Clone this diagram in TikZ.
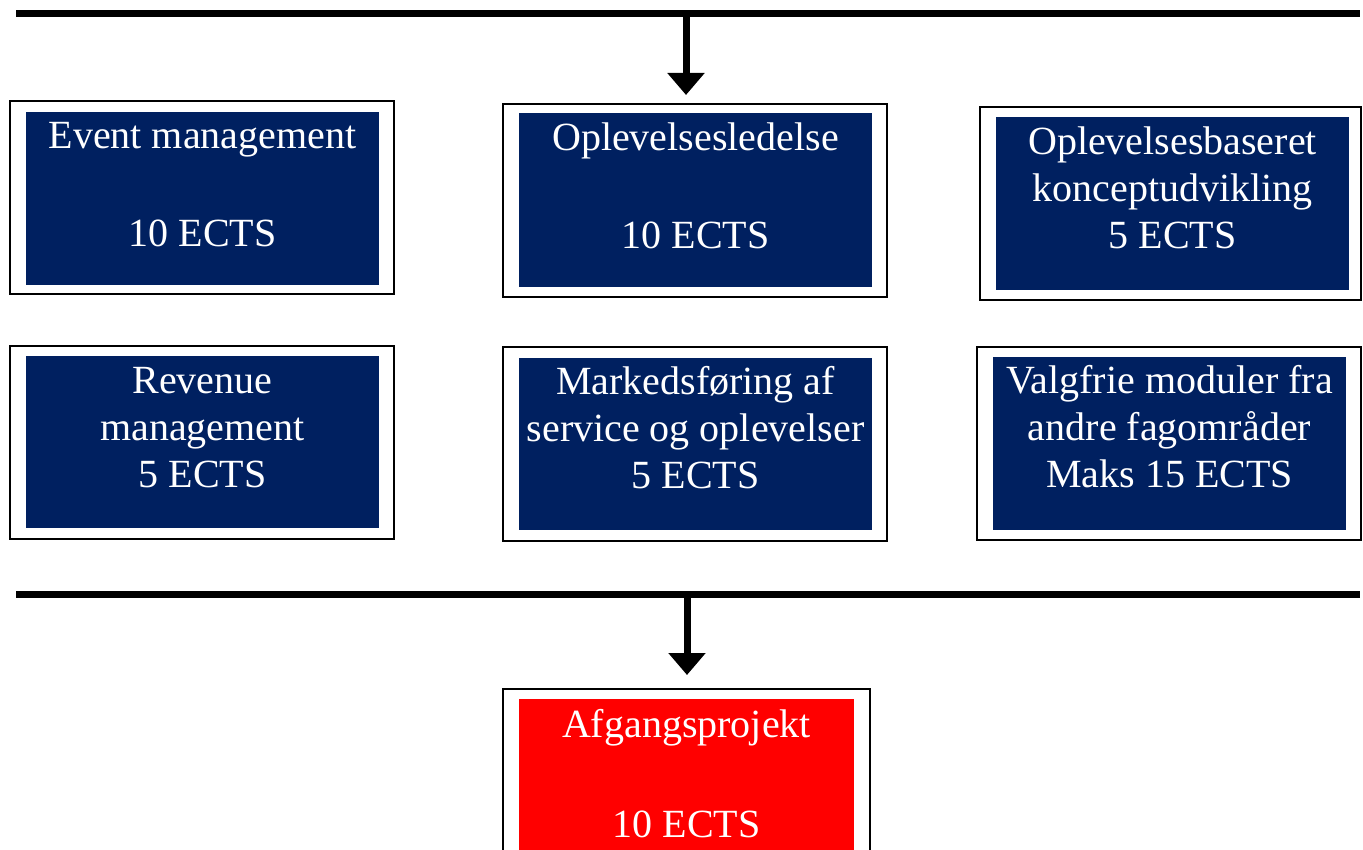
\documentclass[tikz,border=0pt]{standalone}
\usepackage{fontspec}
\setmainfont{Liberation Serif}
\usetikzlibrary{arrows.meta}
\definecolor{navy}{HTML}{002060}
\definecolor{brightred}{HTML}{FF0000}
\tikzset{
  outerbox/.style={draw=black, line width=1.5pt, fill=white, inner sep=0pt, minimum width=#1},
  innerbox/.style={fill=navy, draw=none, inner sep=0pt},
  lbl/.style={text=white, align=center, anchor=north, inner sep=0pt, font=\fontsize{40}{47}\selectfont},
  bar/.style={line width=7pt},
  conn/.style={line width=7pt, -{Triangle[width=36pt,length=22pt]}}
}
\newcommand{\fl}{\rule{0pt}{30pt}}
\begin{document}
\begin{tikzpicture}[x=1pt,y=-1pt]
\clip (0,0) rectangle (1363,850);
\fill[white] (0,0) rectangle (1363,850);

% top bar and arrow
\coordinate (barAL) at (16,14);
\coordinate (barAR) at (1360,14);
\coordinate (barAM) at (686,14);
\coordinate (tipA) at (686,95);
\draw[bar] (barAL) -- (barAR);
\draw[conn] (barAM) -- (tipA);

% row 1
\node[outerbox=384pt, minimum height=193pt] (o1) at (202,197.5) {};
\node[innerbox, minimum width=353pt, minimum height=173pt] (i1) at (202.5,198.5) {};
\node[lbl] (t1) at (202.5,118) {\fl Event management\\[2pt]\mbox{}\\[2pt]10 ECTS};

\node[outerbox=384pt, minimum height=193pt] (o2) at (695,200.5) {};
\node[innerbox, minimum width=353pt, minimum height=174pt] (i2) at (695.5,200) {};
\node[lbl] (t2) at (695.5,120) {\fl Oplevelsesledelse\\[2pt]\mbox{}\\[2pt]10 ECTS};

\node[outerbox=381pt, minimum height=193pt] (o3) at (1170.5,203.5) {};
\node[innerbox, minimum width=353pt, minimum height=173pt] (i3) at (1172.5,203.5) {};
\node[lbl] (t3) at (1172.5,124) {\fl Oplevelsesbaseret\\konceptudvikling\\5 ECTS};

% row 2
\node[outerbox=384pt, minimum height=193pt] (o4) at (202,442.5) {};
\node[innerbox, minimum width=353pt, minimum height=172pt] (i4) at (202.5,442) {};
\node[lbl] (t4) at (202.5,363) {\fl Revenue\\management\\5 ECTS};

\node[outerbox=384pt, minimum height=194pt] (o5) at (695,444) {};
\node[innerbox, minimum width=353pt, minimum height=172pt] (i5) at (695.5,444) {};
\node[lbl] (t5) at (695.5,364) {\fl Markedsføring af\\service og oplevelser\\5 ECTS};

\node[outerbox=384pt, minimum height=193pt] (o6) at (1169,443.5) {};
\node[innerbox, minimum width=353pt, minimum height=173pt] (i6) at (1169.5,443.5) {};
\node[lbl] (t6) at (1169.5,363) {\fl Valgfrie moduler fra\\andre fagområder\\Maks 15 ECTS};

% bottom bar and arrow
\coordinate (barBL) at (16,594);
\coordinate (barBR) at (1360,594);
\coordinate (barBM) at (687,594);
\coordinate (tipB) at (687,675);
\draw[bar] (barBL) -- (barBR);
\draw[conn] (barBM) -- (tipB);

% final project
\node[outerbox=367pt, minimum height=193pt] (o7) at (686.5,785.5) {};
\node[innerbox, fill=brightred, minimum width=335pt, minimum height=173pt] (i7) at (686.5,785.5) {};
\node[lbl] (t7) at (686.5,707) {\fl Afgangsprojekt\\[3pt]\mbox{}\\[3pt]10 ECTS};
\end{tikzpicture}
\end{document}
